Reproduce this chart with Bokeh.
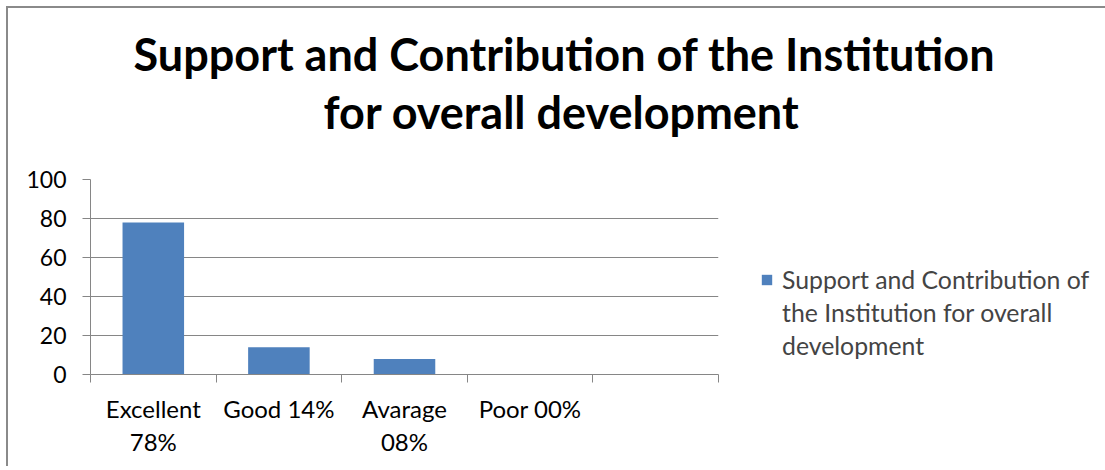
from bokeh.plotting import figure
from bokeh.models import Range1d, FixedTicker, Title, Legend, LegendItem
from bokeh.embed import file_html
from bokeh.resources import INLINE

categories = ["Excellent\n78%", "Good 14%", "Avarage\n08%", "Poor 00%", ""]
values = [78, 14, 8, 0]
y_ticks = [0, 20, 40, 60, 80, 100]
title_lines = ["Support and Contribution of the Institution", "for overall development"]
series_name_lines = ["Support and Contribution of", "the Institution for overall", "development"]

FONT = "Lato"
GRAY = "#868686"
BLUE = "#4F81BD"

p = figure(frame_width=628, frame_height=195, output_backend="svg", toolbar_location=None,
           x_range=Range1d(0, len(categories)), y_range=Range1d(0, 100),
           min_border_left=82, min_border_right=387, min_border_top=171, min_border_bottom=92)
p.styles = {"border-top": "2px solid #8a8a8a", "border-left": "2px solid #8a8a8a",
            "margin-top": "6px", "margin-left": "6px"}
p.outline_line_color = None
p.background_fill_color = "white"

xs = [i + 0.5 for i in range(len(values))]
r = p.vbar(x=xs, top=values, width=0.49, color=BLUE, line_color=None)
blank = p.vbar(x=[], top=[], width=0.49, fill_alpha=0, line_alpha=0)

# x axis
centers = [i + 0.5 for i in range(len(categories))]
p.xaxis.ticker = FixedTicker(ticks=centers, minor_ticks=list(range(len(categories) + 1)))
p.xaxis.major_label_overrides = {c: lab for c, lab in zip(centers, categories)}
p.xaxis.major_tick_out = 0
p.xaxis.major_tick_in = 0
p.xaxis.minor_tick_out = 8
p.xaxis.minor_tick_in = 0
p.xaxis.minor_tick_line_color = GRAY
p.xaxis.axis_line_color = GRAY
p.xaxis.major_label_text_font = FONT
p.xaxis.major_label_text_font_size = "24px"
p.xaxis.major_label_text_color = "black"
p.xaxis.major_label_standoff = 11
p.xaxis.major_label_text_line_height = 1.17
p.xgrid.visible = False

# y axis
p.yaxis.ticker = FixedTicker(ticks=y_ticks, minor_ticks=[])
p.yaxis.major_tick_out = 8
p.yaxis.major_tick_in = 0
p.yaxis.major_tick_line_color = GRAY
p.yaxis.axis_line_color = GRAY
p.yaxis.major_label_text_font = FONT
p.yaxis.major_label_text_font_size = "23px"
p.yaxis.major_label_text_color = "black"
p.yaxis.major_label_standoff = 16
p.ygrid.grid_line_color = GRAY
p.ygrid.ticker = FixedTicker(ticks=y_ticks)

# title lines (first added is closest to the plot)
p.add_layout(Title(text=title_lines[1], align="left", offset=233, standoff=82,
                   text_font=FONT, text_font_style="bold", text_font_size="45px",
                   text_color="black"), "above")
p.add_layout(Title(text=title_lines[0], align="left", offset=43, standoff=-78,
                   text_font=FONT, text_font_style="bold", text_font_size="45px",
                   text_color="black"), "above")

items = [LegendItem(label=series_name_lines[0], renderers=[r])]
items += [LegendItem(label=t, renderers=[blank]) for t in series_name_lines[1:]]
legend = Legend(items=items, location=(42, 12), border_line_color=None, background_fill_alpha=0,
                label_text_font=FONT, label_text_font_size="24.8px", label_height=33,
                glyph_width=13, glyph_height=13, spacing=0,
                label_standoff=9, padding=0, margin=0)
p.add_layout(legend, "right")

open("out.html", "w").write(file_html(p, INLINE))
